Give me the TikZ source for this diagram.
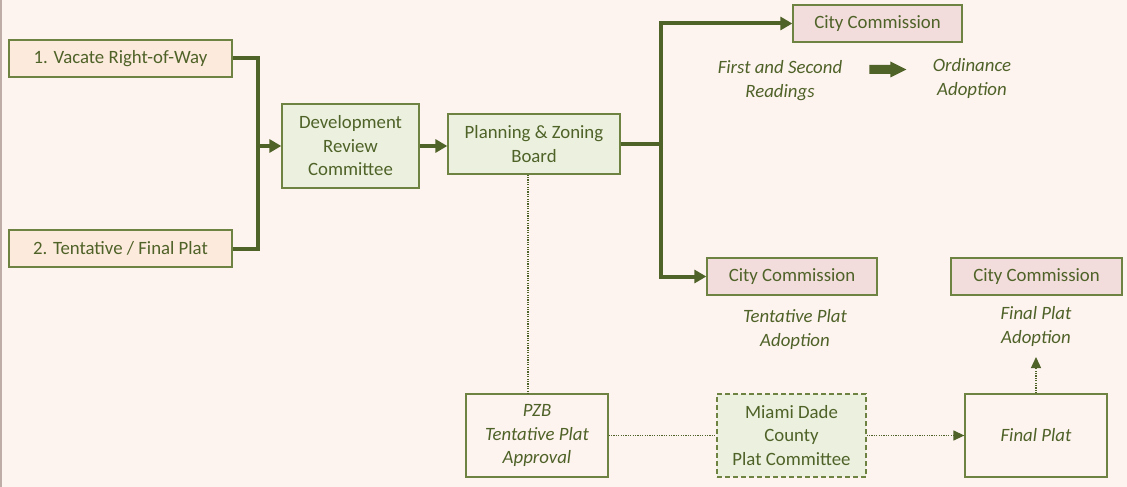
\documentclass[tikz,border=0pt]{standalone}
\usepackage{fontspec}
\setmainfont{Carlito}
\usetikzlibrary{arrows.meta}
\definecolor{bgc}{RGB}{253,243,239}
\definecolor{txc}{RGB}{79,98,40}
\definecolor{bdc}{RGB}{110,130,66}
\definecolor{orf}{RGB}{252,234,220}
\definecolor{grf}{RGB}{235,241,222}
\definecolor{pkf}{RGB}{242,221,220}
\definecolor{edgec}{RGB}{190,172,166}
\tikzset{
  box/.style={draw=bdc, line width=1.3pt, text=txc, align=center, inner sep=0pt, anchor=center,
    font=\fontsize{18.8}{23.5}\selectfont},
  orbox/.style={box, fill=orf},
  grbox/.style={box, fill=grf},
  pkbox/.style={box, fill=pkf},
  plainbox/.style={box},
  lbl/.style={text=txc, align=center, inner sep=0pt, font=\fontsize{18.8}{23.5}\selectfont\itshape},
  thickline/.style={draw=txc, line width=4pt},
  thickarrow/.style={thickline, -{Triangle[length=12pt,width=13pt]}},
  dotline/.style={draw=txc, line width=1.3pt, dash pattern=on 1.2pt off 1.2pt},
  dotarrow/.style={dotline, -{Triangle[length=11pt,width=10pt]}},
}
\begin{document}
\begin{tikzpicture}[x=1pt,y=-1pt]
\fill[bgc] (0,0) rectangle (1127,487);
\useasboundingbox (0,0) rectangle (1127,487);
\draw[edgec, line width=1.5pt] (0.75,0) -- (0.75,487);

% boxes
\node[orbox, minimum width=223pt, minimum height=37pt] (v1) at (120.5,58.5) {1. Vacate Right-of-Way};
\node[orbox, minimum width=223pt, minimum height=37pt] (v2) at (120.5,248.5) {2. Tentative / Final Plat};
\node[grbox, minimum width=137pt, minimum height=84pt] (drc) at (350.5,146) {Development\\Review\\Committee};
\node[grbox, minimum width=172pt, minimum height=60pt] (pzb) at (534,144) {Planning \& Zoning\\Board};
\node[pkbox, minimum width=169pt, minimum height=37pt] (cc1) at (877.5,23.5) {City Commission};
\node[pkbox, minimum width=170pt, minimum height=37pt] (cc2) at (792,276.5) {City Commission};
\node[pkbox, minimum width=171pt, minimum height=37pt] (cc3) at (1036.5,276.5) {City Commission};
\node[plainbox, minimum width=142pt, minimum height=83pt, font=\fontsize{18.8}{23.5}\selectfont\itshape] (pzba) at (537,435.5) {PZB\\Tentative Plat\\Approval};
\node[grbox, dashed, dash pattern=on 5pt off 3pt, minimum width=149pt, minimum height=83pt] (mdc) at (791.5,435.5) {Miami Dade\\County\\Plat Committee};
\node[plainbox, minimum width=142pt, minimum height=83pt, font=\fontsize{18.8}{23.5}\selectfont\itshape] (fp) at (1036,435.5) {Final Plat};

% labels
\node[lbl] (readings) at (780,80.5) {First and Second\\Readings};
\node[lbl] (ordinance) at (972,78.5) {Ordinance\\Adoption};
\node[lbl] (tpa) at (795,329.5) {Tentative Plat\\Adoption};
\node[lbl] (fpa) at (1036,326.5) {Final Plat\\Adoption};

% coordinates
\coordinate (jx) at (258,146);
\coordinate (sj) at (661,144);
\coordinate (dv) at (528,0);
\coordinate (fptip) at (1036,357);

% thick connectors
\draw[thickline, line join=miter] (v1.east) -| (jx) |- (v2.east);
\draw[thickarrow] (jx) -- (drc.west);
\draw[thickarrow] (drc.east) -- (drc.east -| pzb.west);
\draw[thickline] (pzb.east) -- (sj);
\draw[thickarrow, line join=miter] (sj) |- (cc1.west);
\draw[thickarrow, line join=miter] (sj) |- (cc2.west);

% block arrow
\draw[draw=none, fill=txc] ([xshift=27pt]readings.east |- 0,69.5) coordinate (ba)
  ++(0,-4.5) -- ++(21,0) -- ++(0,-3.5) -- ++(16,8) -- ++(-16,8) -- ++(0,-3.5) -- ++(-21,0) -- cycle;

% dotted connectors
\draw[dotline] (pzb.south -| dv) -- (pzba.north -| dv);
\draw[dotline] (pzba.east) -- (mdc.west);
\draw[dotarrow] (mdc.east) -- (fp.west);
\draw[dotarrow] (fp.north) -- (fptip);
\end{tikzpicture}
\end{document}
